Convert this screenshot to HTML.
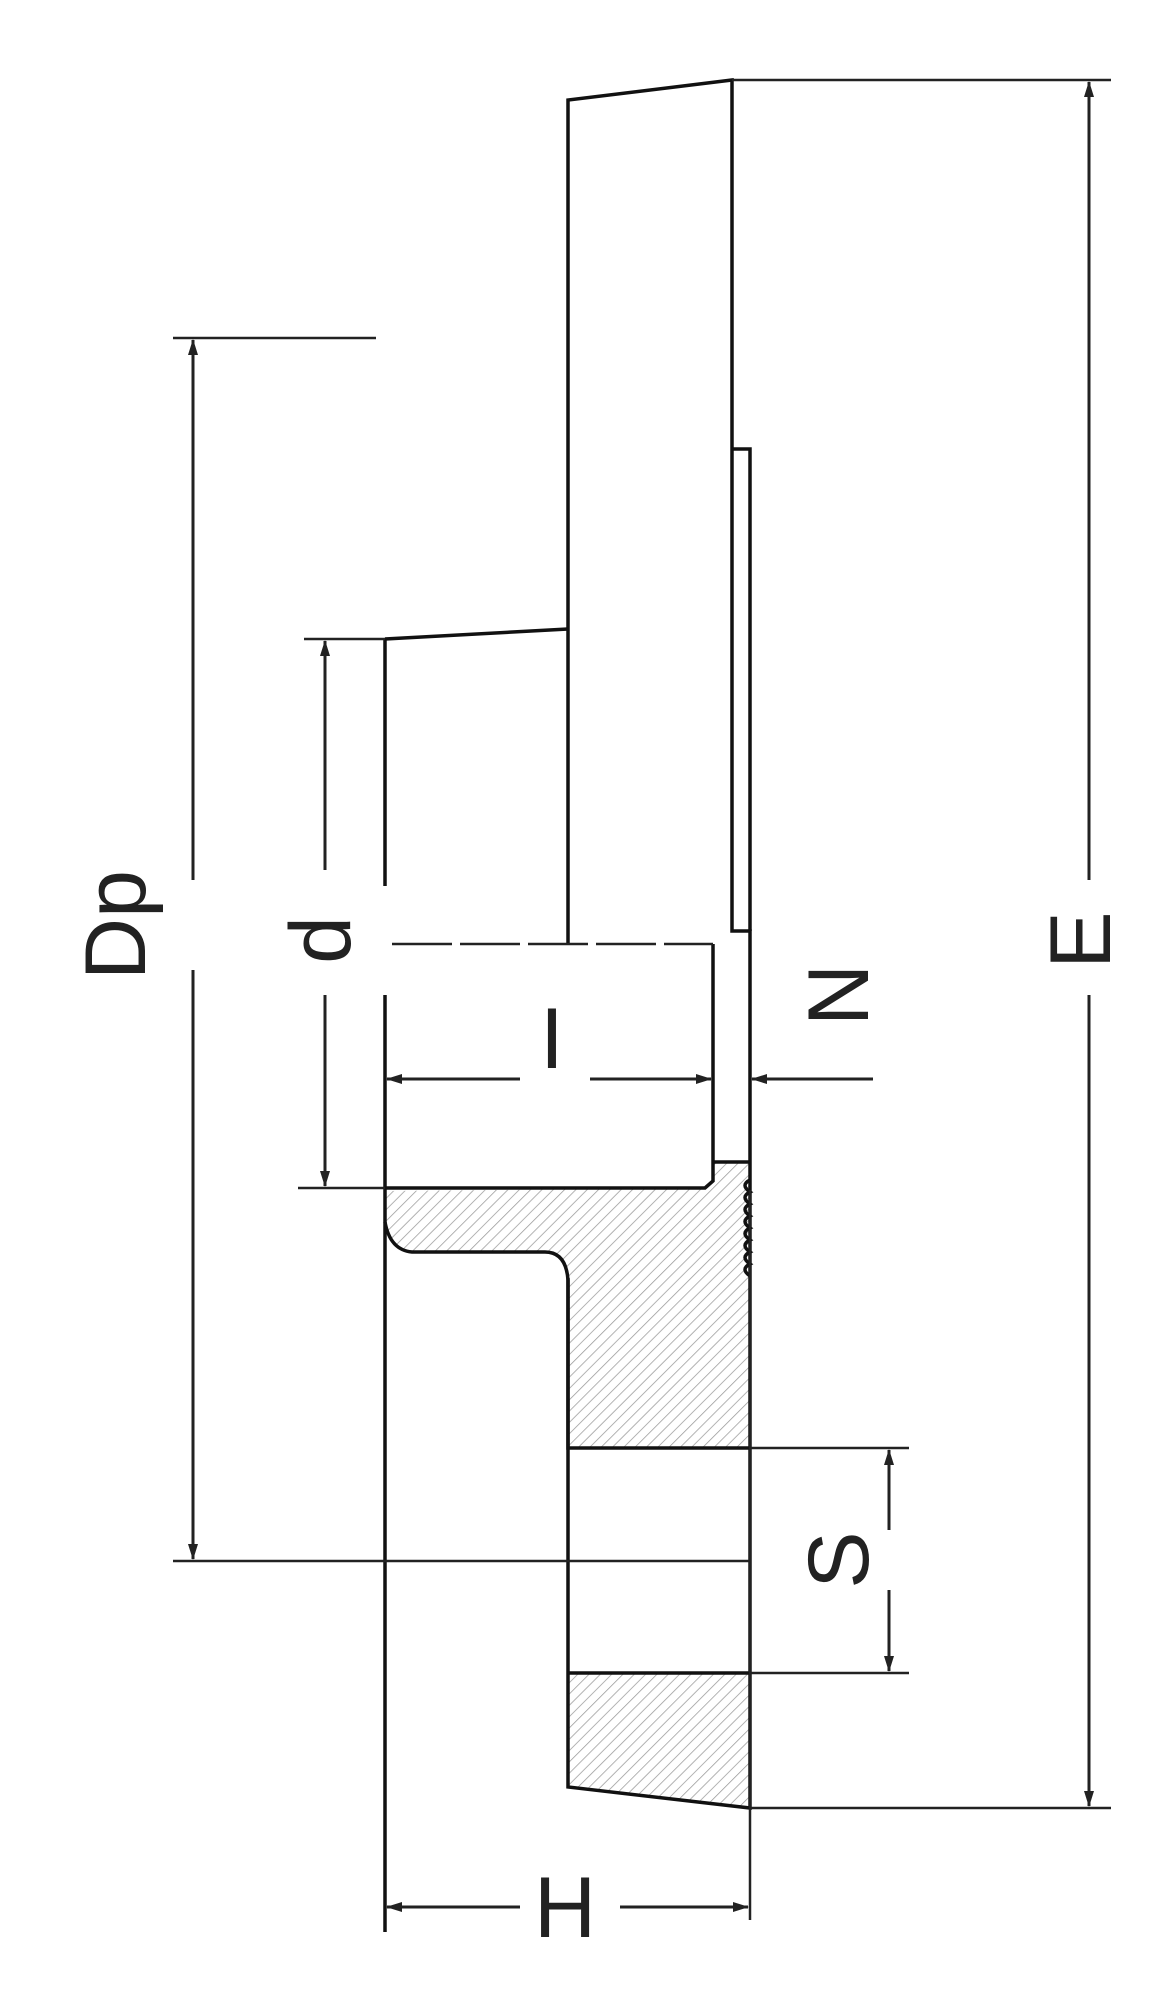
<!DOCTYPE html>
<html><head><style>html,body{margin:0;padding:0;background:#fff}svg{display:block}</style></head><body>
<svg width="1169" height="2000" viewBox="0 0 1169 2000" xmlns="http://www.w3.org/2000/svg">
<defs>
<pattern id="h" width="8" height="8" patternUnits="userSpaceOnUse" patternTransform="rotate(45)">
<line x1="0" y1="0" x2="0" y2="8" stroke="#999" stroke-width="1.5"/></pattern>
<marker id="a" markerWidth="16" markerHeight="12" refX="15" refY="6" orient="auto" markerUnits="userSpaceOnUse"><path d="M0,1 L16,6 L0,11 z" fill="#222"/></marker>
</defs>
<g fill="url(#h)" stroke="none">
<path d="M385,1191 L713,1188 L713,1162 L750,1162 L750,1448 L568,1448 L568,1280 Q566,1252 545,1252 L412,1252 Q390,1250 385,1222 Z"/>
<path d="M568,1673 L750,1673 L750,1808 L568,1787 Z"/>
</g>
<g stroke="#111" stroke-width="3.5" fill="none">
<path d="M568,944 L568,100 L732,80 L732,931 L750,931 L750,1808 L568,1787 L568,1278"/>
<path d="M732,449 L750,449 L750,931"/>
<path d="M385,639 L385,886 M385,995 L385,1932"/>
<path d="M385,639 L568,629"/>
<path d="M713,944 L713,1181 L705,1188 L385,1188"/>
<path d="M713,1162 L750,1162"/>
<path d="M385,1222 Q390,1250 412,1252 L545,1252 Q566,1252 568,1280 L568,1448 L750,1448"/>
<path d="M568,1673 L750,1673"/>
<path d="M750,1180 q-10,5 0,12 q-10,5 0,12 q-10,5 0,12 q-10,5 0,12 q-10,5 0,12 q-10,5 0,12 q-10,5 0,12 q-10,5 0,12"/>
</g>
<g stroke="#222" stroke-width="2.5" fill="none">
<line x1="392" y1="944" x2="713" y2="944" stroke-dasharray="60,8"/>
<line x1="732" y1="80" x2="1111" y2="80"/>
<line x1="750" y1="1808" x2="1111" y2="1808"/>
<line x1="173" y1="338" x2="376" y2="338"/>
<line x1="173" y1="1561" x2="750" y2="1561"/>
<line x1="304" y1="639" x2="385" y2="639"/>
<line x1="298" y1="1188" x2="385" y2="1188"/>
<line x1="750" y1="1448" x2="909" y2="1448"/>
<line x1="750" y1="1673" x2="909" y2="1673"/>
<line x1="750" y1="1190" x2="750" y2="1920"/>
</g>
<g stroke="#222" stroke-width="3" fill="none" >
<line x1="1089" y1="880" x2="1089" y2="82" marker-end="url(#a)"/>
<line x1="1089" y1="995" x2="1089" y2="1806" marker-end="url(#a)"/>
<line x1="193" y1="880" x2="193" y2="340" marker-end="url(#a)"/>
<line x1="193" y1="970" x2="193" y2="1559" marker-end="url(#a)"/>
<line x1="325" y1="870" x2="325" y2="641" marker-end="url(#a)"/>
<line x1="325" y1="995" x2="325" y2="1186" marker-end="url(#a)"/>
<line x1="520" y1="1079" x2="387" y2="1079" marker-end="url(#a)"/>
<line x1="590" y1="1079" x2="711" y2="1079" marker-end="url(#a)"/>
<line x1="873" y1="1079" x2="752" y2="1079" marker-end="url(#a)"/>
<line x1="889" y1="1530" x2="889" y2="1450" marker-end="url(#a)"/>
<line x1="889" y1="1590" x2="889" y2="1671" marker-end="url(#a)"/>
<line x1="520" y1="1907" x2="387" y2="1907" marker-end="url(#a)"/>
<line x1="620" y1="1907" x2="748" y2="1907" marker-end="url(#a)"/>
</g>
<g font-family="Liberation Sans, sans-serif" font-size="86" fill="#222">
<text transform="translate(145,925) rotate(-90)" text-anchor="middle">Dp</text>
<text transform="translate(350,940) rotate(-90)" text-anchor="middle">d</text>
<text transform="translate(1110,940) rotate(-90)" text-anchor="middle">E</text>
<text transform="translate(868,1560) rotate(-90)" text-anchor="middle">S</text>
<text transform="translate(868,995) rotate(-90)" text-anchor="middle">N</text>
<text x="552" y="1068" text-anchor="middle">I</text>
<text x="565" y="1937" text-anchor="middle">H</text>
</g>
</svg>
</body></html>
